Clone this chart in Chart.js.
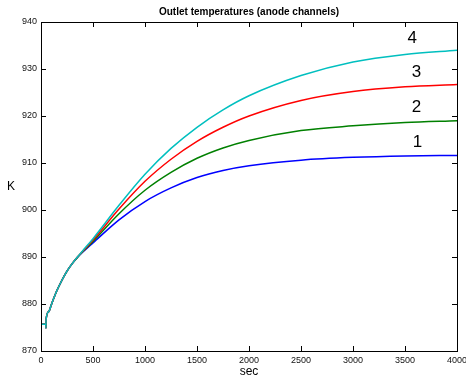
<!DOCTYPE html>
<html>
<head>
<meta charset="utf-8">
<script src="https://cdn.jsdelivr.net/npm/chart.js@4.4.1/dist/chart.umd.min.js"></script>
<style>
  html, body { margin: 0; padding: 0; background: #fff; }
  #wrap { width: 466px; height: 383px; }
</style>
</head>
<body>
<div id="wrap"><canvas id="outletChart"></canvas></div>
<script>
/*
  Data
*/
var times = [0, 47, 47.5, 48.5, 75, 100, 150, 200, 250, 300, 350, 400, 500, 750, 1000, 1250, 1500, 1750, 2000, 2500, 3000, 3500, 4000];

var channel1 = [875.7, 875.7, 874.9, 876.6, 878.4, 879.9, 882.7, 885.0, 887.0, 888.6, 889.9, 891.0, 893.0, 897.9, 901.8, 904.7, 906.9, 908.4, 909.4, 910.6, 911.2, 911.5, 911.6];
var channel2 = [875.7, 875.7, 874.9, 876.6, 878.4, 879.9, 882.7, 885.0, 887.0, 888.6, 889.9, 891.1, 893.3, 899.2, 904.2, 908.0, 911.0, 913.2, 914.8, 916.9, 917.9, 918.6, 919.0];
var channel3 = [875.7, 875.7, 874.9, 876.6, 878.4, 879.9, 882.7, 885.0, 887.0, 888.6, 890.0, 891.2, 893.6, 900.2, 906.1, 910.8, 914.6, 917.6, 920.0, 923.3, 925.2, 926.2, 926.7];
var channel4 = [875.7, 875.7, 874.9, 876.6, 878.4, 879.9, 882.7, 885.0, 887.0, 888.6, 890.0, 891.3, 893.9, 901.0, 907.6, 913.1, 917.6, 921.3, 924.3, 928.6, 931.5, 933.1, 934.0];

var channelNames = ['1', '2', '3', '4'];
var nameX = [3620, 3610, 3610, 3570];
var nameY = [914.3, 921.9, 929.4, 936.6];

var blue = '#0000ff';
var green = '#008000';
var red = '#ff0000';
var cyan = '#00bfbf';

var fontFamily = '"Liberation Sans", Arial, sans-serif';

var toPoints = (values) => values.map((v, i) => ({x: times[i], y: v}));

// inward tick marks, the box round the plot, the upright K and the curve numbers
var boxTicks = {
  id: 'boxTicks',
  afterDraw(chart) {
    var ctx = chart.ctx;
    var area = chart.chartArea;
    var xs = chart.scales.x;
    var ys = chart.scales.y;
    var len = 5;
    ctx.save();
    ctx.strokeStyle = '#000';
    ctx.lineWidth = 1;
    ctx.beginPath();
    xs.ticks.forEach(t => {
      var px = Math.round(xs.getPixelForValue(t.value)) + 0.5;
      ctx.moveTo(px, area.bottom);
      ctx.lineTo(px, area.bottom - len);
      ctx.moveTo(px, area.top);
      ctx.lineTo(px, area.top + len);
    });
    ys.ticks.forEach(t => {
      var py = Math.round(ys.getPixelForValue(t.value)) + 0.5;
      ctx.moveTo(area.left, py);
      ctx.lineTo(area.left + len, py);
      ctx.moveTo(area.right, py);
      ctx.lineTo(area.right - len, py);
    });
    ctx.stroke();
    ctx.strokeRect(Math.round(area.left) + 0.5, Math.round(area.top) + 0.5,
      Math.round(area.right - area.left), Math.round(area.bottom - area.top));

    ctx.fillStyle = '#000';
    ctx.textAlign = 'center';
    ctx.textBaseline = 'middle';

    // y axis label, not rotated
    ctx.font = '12px ' + fontFamily;
    ctx.fillText('K', ys.left + 11, (area.top + area.bottom) / 2);

    // curve numbers
    ctx.font = '17px ' + fontFamily;
    channelNames.forEach((n, i) => {
      ctx.fillText(n, xs.getPixelForValue(nameX[i]), ys.getPixelForValue(nameY[i]));
    });
    ctx.restore();
  }
};

var tickFont = {family: fontFamily, size: 9};

var outletChart = new Chart(document.getElementById('outletChart'), {
  type: 'line',
  data: {
    datasets: [
      {label: '4', data: toPoints(channel4), borderColor: cyan, order: 0},
      {label: '3', data: toPoints(channel3), borderColor: red, order: 1},
      {label: '2', data: toPoints(channel2), borderColor: green, order: 2},
      {label: '1', data: toPoints(channel1), borderColor: blue, order: 3}
    ]
  },
  options: {
    responsive: true,
    maintainAspectRatio: false,
    animation: false,
    devicePixelRatio: 1,
    layout: {
      padding: {left: 0, right: 9, top: 0, bottom: 0}
    },
    elements: {
      point: {radius: 0},
      line: {borderWidth: 1.5, cubicInterpolationMode: 'monotone', fill: false}
    },
    plugins: {
      legend: {display: false},
      tooltip: {enabled: false},
      title: {
        display: true,
        fullSize: false,
        text: 'Outlet temperatures (anode channels)',
        color: '#000',
        font: {family: fontFamily, size: 10, weight: 'bold', lineHeight: 1.2},
        padding: {top: 6, bottom: 4}
      }
    },
    scales: {
      x: {
        type: 'linear',
        min: 0,
        max: 4000,
        grid: {display: false, drawTicks: false},
        border: {display: false},
        ticks: {
          stepSize: 500,
          color: '#111',
          font: tickFont,
          padding: 4,
          maxRotation: 0,
          autoSkip: false,
          callback: (v) => String(v)
        },
        title: {
          display: true,
          text: 'sec',
          color: '#000',
          font: {family: fontFamily, size: 12, lineHeight: 1.2},
          padding: {top: 0, bottom: 4}
        },
        afterFit(scale) {
          scale.height = 32;
          scale.paddingLeft = 0;
          scale.paddingRight = 0;
        }
      },
      y: {
        min: 870,
        max: 940,
        grid: {display: false, drawTicks: false},
        border: {display: false},
        ticks: {stepSize: 10, color: '#111', font: tickFont, padding: 4},
        afterFit(scale) {
          scale.width = 41;
          scale.paddingTop = 0;
          scale.paddingBottom = 0;
        }
      }
    }
  },
  plugins: [boxTicks]
});
</script>
</body>
</html>
